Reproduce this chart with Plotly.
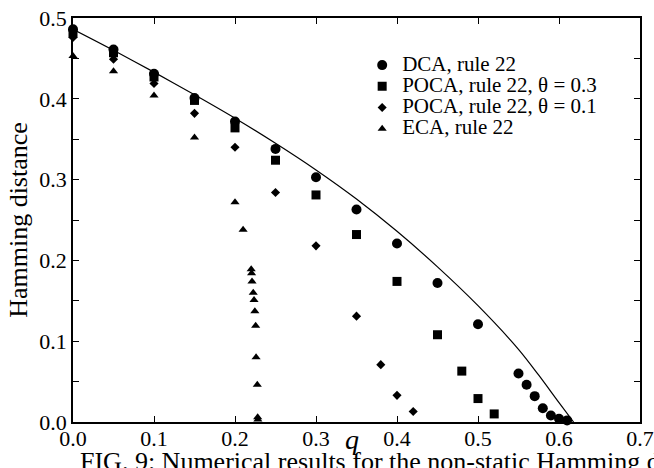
import plotly.graph_objects as go

# ---------------- data ----------------
dca_q = [0.0, 0.05, 0.10, 0.15, 0.20, 0.25, 0.30, 0.35, 0.40, 0.45, 0.50, 0.55, 0.56, 0.57, 0.58, 0.59, 0.60, 0.61]
dca_h = [0.486, 0.461, 0.431, 0.401, 0.372, 0.338, 0.303, 0.263, 0.221, 0.172, 0.121, 0.060, 0.046, 0.032, 0.017, 0.008, 0.004, 0.002]

poca3_q = [0.0, 0.05, 0.10, 0.15, 0.20, 0.25, 0.30, 0.35, 0.40, 0.45, 0.48, 0.50, 0.52]
poca3_h = [0.481, 0.457, 0.427, 0.398, 0.364, 0.324, 0.281, 0.232, 0.174, 0.108, 0.063, 0.029, 0.010]

poca1_q = [0.0, 0.05, 0.10, 0.15, 0.20, 0.25, 0.30, 0.35, 0.38, 0.40, 0.42]
poca1_h = [0.476, 0.449, 0.419, 0.382, 0.340, 0.284, 0.218, 0.131, 0.071, 0.033, 0.013]

eca_q = [0.0, 0.05, 0.10, 0.15, 0.20, 0.21, 0.220, 0.2205, 0.221, 0.2225, 0.2235, 0.2245, 0.2255, 0.226, 0.2275, 0.228, 0.2282]
eca_h = [0.453, 0.434, 0.404, 0.352, 0.272, 0.238, 0.189, 0.184, 0.174, 0.160, 0.151, 0.137, 0.119, 0.080, 0.046, 0.006, 0.003]

curve_q = [0.0, 0.05, 0.10, 0.15, 0.20, 0.25, 0.30, 0.35, 0.40, 0.45, 0.50, 0.55, 0.575, 0.60, 0.618]
curve_h = [0.486, 0.460, 0.433, 0.405, 0.376, 0.345, 0.312, 0.276, 0.236, 0.192, 0.144, 0.090, 0.058, 0.024, 0.0]

x_tickvals = [0.0, 0.1, 0.2, 0.3, 0.4, 0.5, 0.6, 0.7]
x_ticktext = ["0.0", "0.1", "0.2", "0.3", "0.4", "0.5", "0.6", "0.7"]
y_tickvals = [0.0, 0.05, 0.1, 0.15, 0.2, 0.25, 0.3, 0.35, 0.4, 0.45, 0.5]
y_ticktext = ["0.0", "", "0.1", "", "0.2", "", "0.3", "", "0.4", "", "0.5"]

labels = ["DCA, rule 22", "POCA, rule 22, \u03b8 = 0.3", "POCA, rule 22, \u03b8 = 0.1", "ECA, rule 22"]
x_title = "<i>q</i>"
y_title = "Hamming distance"
caption = "FIG. 9: Numerical results for the non-static Hamming distance"

FONT = "Liberation Serif, Times New Roman, serif"


def leg(t):
    # larger visible text while keeping compact legend row spacing
    return '<span style="font-size:21px">' + t + "</span>"


fig = go.Figure()
fig.add_trace(go.Scatter(x=curve_q, y=curve_h, mode="lines", line=dict(color="black", width=1.2, shape="spline", smoothing=0.8),
                         showlegend=False, hoverinfo="skip"))
fig.add_trace(go.Scatter(x=dca_q, y=dca_h, mode="markers", name=leg(labels[0]), cliponaxis=False,
                         marker=dict(symbol="circle", size=10, color="black")))
fig.add_trace(go.Scatter(x=poca3_q, y=poca3_h, mode="markers", name=leg(labels[1]), cliponaxis=False,
                         marker=dict(symbol="square", size=9, color="black")))
fig.add_trace(go.Scatter(x=poca1_q, y=poca1_h, mode="markers", name=leg(labels[2]), cliponaxis=False,
                         marker=dict(symbol="diamond", size=7, color="black")))
fig.add_trace(go.Scatter(x=eca_q, y=eca_h, mode="markers", name=leg(labels[3]), cliponaxis=False,
                         marker=dict(symbol="triangle-up", size=8, color="black")))

axis_common = dict(showgrid=False, zeroline=False, showline=True, linecolor="black", linewidth=1.5,
                   ticks="inside", ticklen=6, tickwidth=1, tickcolor="black", mirror="ticks",
                   tickfont=dict(family=FONT, size=22, color="black"))

fig.update_xaxes(range=[0, 0.7], tickmode="array", tickvals=x_tickvals, ticktext=x_ticktext,
                 ticklabelstandoff=-4, **axis_common)
fig.update_yaxes(range=[0, 0.5], tickmode="array", tickvals=y_tickvals, ticktext=y_ticktext,
                 title=dict(text=y_title, font=dict(family=FONT, size=26, color="black"), standoff=4),
                 **axis_common)

fig.add_annotation(text=x_title, xref="paper", yref="paper", x=0.492, y=0.0, xanchor="center", yanchor="top",
                   showarrow=False, font=dict(family=FONT, size=28, color="black"))
fig.add_annotation(text=caption, xref="paper", yref="paper", x=0.009, y=-0.058, xanchor="left", yanchor="top",
                   showarrow=False, font=dict(family=FONT, size=26, color="black"))

fig.update_layout(
    width=654, height=468,
    margin=dict(l=73, r=14, t=18, b=46, autoexpand=False),
    paper_bgcolor="white", plot_bgcolor="white",
    font=dict(family=FONT, color="black"),
    legend=dict(x=0.51, y=0.922, xanchor="left", yanchor="top", bgcolor="rgba(0,0,0,0)",
                font=dict(family=FONT, size=14, color="black"), itemwidth=30, tracegroupgap=0),
)

fig.write_html("out.html")
